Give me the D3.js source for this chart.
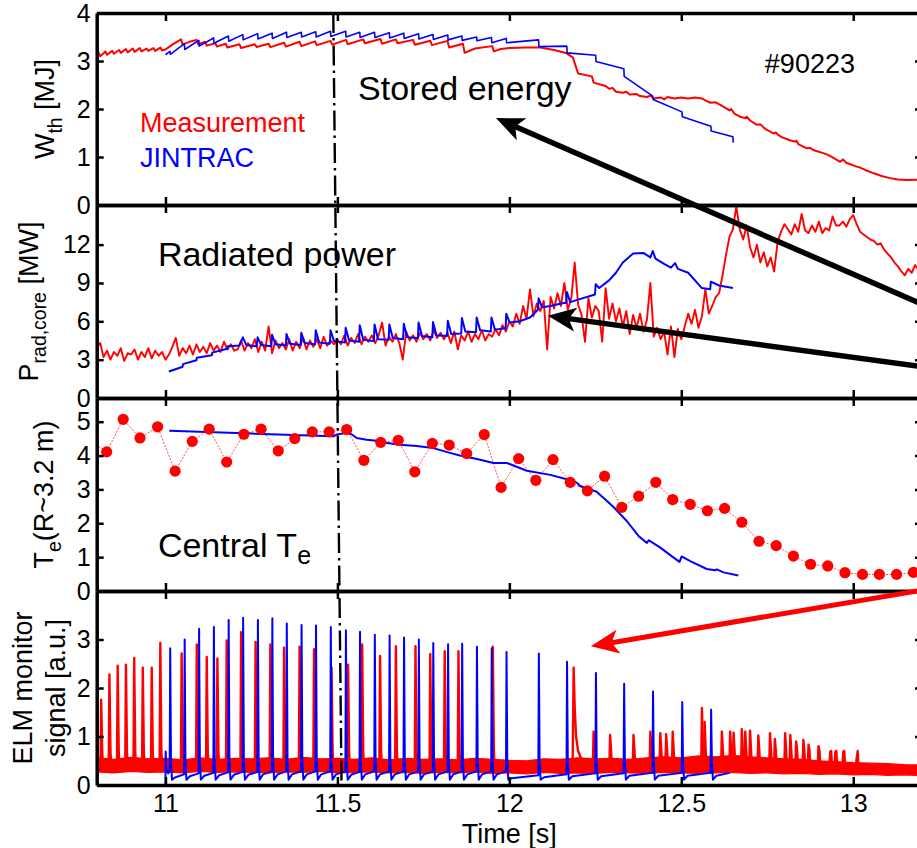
<!DOCTYPE html>
<html><head><meta charset="utf-8">
<script src="https://cdn.jsdelivr.net/npm/d3@7"></script>
<style>body{margin:0;background:#fff}svg{display:block}text{font-family:"Liberation Sans",Arial,Helvetica,sans-serif}</style>
</head><body><svg id="c" width="917" height="848"></svg>
<script>
// ---------------- DATA ----------------
const xTicks = [11, 11.5, 12, 12.5, 13];
const wthTicks = [0,1,2,3,4];
const pradTicks = [0,3,6,9,12];
const teTicks = [0,1,2,3,4,5];
const elmTicks = [0,1,2,3];

// Stored energy, measurement [t, MJ]
const wthMeas = [[10.800,3.14],[10.805,3.18],[10.810,3.10],[10.820,3.16],[10.825,3.20],[10.830,3.13],[10.845,3.21],[10.850,3.15],[10.865,3.23],[10.870,3.17],[10.885,3.25],[10.890,3.18],[10.905,3.26],[10.910,3.19],[10.925,3.27],[10.930,3.20],[10.945,3.26],[10.950,3.21],[10.965,3.27],[10.970,3.21],[10.985,3.28],[10.990,3.22],[11.000,3.24],[11.020,3.34],[11.045,3.45],[11.050,3.34],[11.070,3.40],[11.090,3.44],[11.095,3.35],[11.115,3.40],[11.120,3.32],[11.145,3.37],[11.150,3.30],[11.175,3.36],[11.180,3.28],[11.215,3.35],[11.220,3.27],[11.260,3.35],[11.265,3.29],[11.300,3.36],[11.305,3.29],[11.345,3.38],[11.350,3.30],[11.390,3.40],[11.395,3.31],[11.435,3.41],[11.440,3.33],[11.480,3.42],[11.485,3.34],[11.525,3.44],[11.530,3.35],[11.575,3.45],[11.580,3.37],[11.625,3.46],[11.630,3.36],[11.670,3.45],[11.675,3.37],[11.720,3.44],[11.725,3.34],[11.770,3.42],[11.775,3.33],[11.820,3.42],[11.825,3.28],[11.865,3.36],[11.870,3.17],[11.900,3.26],[11.950,3.31],[11.955,3.20],[11.975,3.25],[12.000,3.27],[12.050,3.28],[12.090,3.28],[12.130,3.23],[12.167,3.16],[12.185,3.07],[12.195,2.85],[12.200,2.74],[12.240,2.68],[12.245,2.55],[12.280,2.48],[12.290,2.42],[12.300,2.44],[12.310,2.36],[12.330,2.34],[12.340,2.36],[12.350,2.30],[12.370,2.31],[12.380,2.27],[12.400,2.25],[12.410,2.28],[12.420,2.22],[12.440,2.24],[12.450,2.20],[12.460,2.25],[12.480,2.22],[12.500,2.24],[12.520,2.22],[12.540,2.24],[12.560,2.22],[12.570,2.18],[12.585,2.13],[12.600,2.14],[12.615,2.08],[12.640,1.97],[12.645,2.00],[12.655,1.90],[12.671,1.84],[12.685,1.81],[12.690,1.84],[12.700,1.76],[12.720,1.67],[12.730,1.68],[12.745,1.58],[12.768,1.49],[12.775,1.51],[12.780,1.47],[12.790,1.42],[12.816,1.35],[12.830,1.32],[12.835,1.34],[12.840,1.27],[12.865,1.18],[12.875,1.19],[12.880,1.16],[12.890,1.13],[12.913,1.08],[12.925,1.05],[12.940,0.99],[12.962,0.90],[12.970,0.95],[12.980,0.88],[13.010,0.80],[13.020,0.78],[13.035,0.73],[13.060,0.66],[13.085,0.60],[13.107,0.56],[13.130,0.53],[13.156,0.52],[13.200,0.53]];

// Stored energy, JINTRAC [t, MJ]
const wthJintrac = [[11.000,3.13],[11.013,3.20],[11.014,3.14],[11.055,3.36],[11.056,3.24],[11.097,3.43],[11.098,3.31],[11.140,3.48],[11.141,3.37],[11.183,3.52],[11.184,3.41],[11.225,3.55],[11.226,3.44],[11.268,3.57],[11.269,3.46],[11.310,3.58],[11.311,3.47],[11.352,3.60],[11.353,3.49],[11.395,3.60],[11.396,3.50],[11.437,3.61],[11.438,3.50],[11.480,3.62],[11.481,3.51],[11.524,3.62],[11.525,3.50],[11.565,3.60],[11.566,3.49],[11.608,3.60],[11.609,3.49],[11.651,3.59],[11.652,3.48],[11.693,3.58],[11.694,3.47],[11.736,3.57],[11.737,3.46],[11.778,3.55],[11.779,3.45],[11.821,3.54],[11.822,3.44],[11.862,3.52],[11.863,3.43],[11.905,3.50],[11.906,3.42],[11.948,3.49],[11.949,3.38],[11.991,3.47],[11.992,3.38],[12.085,3.44],[12.086,3.30],[12.167,3.31],[12.168,3.17],[12.251,3.12],[12.252,2.99],[12.333,2.84],[12.334,2.68],[12.417,2.27],[12.418,2.20],[12.502,1.94],[12.503,1.84],[12.586,1.64],[12.587,1.54],[12.650,1.42],[12.651,1.30]];

// Core radiated power, measurement: sampled every 10 ms from 10.80 s [MW]
const pradStart = 10.80, pradStep = 0.01;
const pradMeas = [3.9,4.3,3.2,3.7,3.0,3.6,3.3,3.9,2.9,3.5,3.4,3.8,3.0,3.6,3.2,3.9,3.1,3.7,3.3,3.6,3.0,
 3.4,4.0,4.7,3.3,3.9,3.5,4.1,3.4,4.2,3.6,4.0,3.5,4.3,3.7,4.1,3.6,4.4,3.8,4.2,3.7,
 3.8,4.5,3.7,4.3,3.9,4.6,3.6,4.4,3.7,5.6,3.5,4.5,3.9,4.3,3.8,4.6,3.7,4.4,3.9,4.7,3.8,4.5,4.0,4.6,3.9,4.8,4.1,4.5,4.2,4.6,
 4.2,4.9,4.1,4.7,4.3,5.0,4.2,4.8,4.4,4.9,4.3,4.9,5.9,4.1,4.8,4.4,5.0,4.3,3.0,5.2,4.5,4.9,4.4,5.1,4.6,5.0,4.5,5.3,4.7,5.1,
 4.6,5.1,4.3,5.2,3.8,4.9,4.5,5.2,4.4,5.0,4.6,5.3,4.5,5.0,4.8,5.4,4.9,5.7,5.2,6.0,
 5.6,6.6,5.8,7.2,6.2,8.5,6.4,7.4,6.8,7.6,3.8,7.9,7.0,8.2,7.2,9.0,6.9,7.8,10.6,7.3,
 6.5,4.4,7.8,6.3,7.2,6.8,4.4,8.6,6.2,7.4,6.0,7.0,5.6,6.8,5.0,6.5,5.5,6.6,5.2,6.1,
 9.0,4.8,5.5,4.6,5.2,3.4,5.6,3.2,5.4,4.6,
 5.6,6.6,5.8,6.9,5.5,6.4,8.5,6.6,7.2,7.9,
 8.2,9.6,11.2,12.6,13.2,15.0,13.2,12.4,13.5,11.8,
 11.0,12.0,10.6,11.4,10.3,11.0,9.9,12.2,13.0,13.6,
 13.2,12.8,13.6,13.0,14.4,13.1,12.9,13.5,13.0,13.8,12.9,13.3,13.1,14.2,13.5,
 13.5,13.8,13.4,14.0,14.3,13.6,13.0,12.8,12.6,12.4,12.3,12.0,12.1,11.6,11.3,11.0,10.6,10.3,9.9,9.6,10.1,9.8,10.4,10.0,10.2];

// Core radiated power, JINTRAC [t, MW]
const pradJintrac = [[11.010,2.07],[11.050,2.45],[11.051,2.65],[11.090,2.95],[11.091,3.15],[11.135,3.35],[11.136,3.55],[11.180,3.85],[11.181,4.05],[11.215,4.10],[11.225,4.75],[11.235,4.15],[11.265,4.05],[11.268,4.75],[11.278,4.15],[11.308,4.05],[11.310,4.95],[11.320,4.20],[11.350,4.10],[11.352,5.00],[11.362,4.25],[11.393,4.15],[11.395,5.10],[11.405,4.30],[11.435,4.20],[11.437,5.30],[11.447,4.35],[11.478,4.25],[11.480,5.30],[11.490,4.45],[11.522,4.35],[11.524,5.50],[11.534,4.50],[11.563,4.40],[11.565,5.70],[11.575,4.55],[11.606,4.45],[11.608,5.75],[11.618,4.60],[11.649,4.55],[11.651,5.75],[11.661,4.70],[11.691,4.60],[11.693,5.80],[11.703,4.75],[11.734,4.70],[11.736,5.90],[11.746,4.85],[11.776,4.75],[11.778,5.95],[11.788,4.90],[11.819,4.85],[11.821,6.05],[11.831,5.00],[11.860,5.05],[11.862,6.25],[11.872,5.20],[11.903,5.15],[11.905,6.30],[11.915,5.30],[11.946,5.20],[11.948,6.30],[11.958,5.35],[11.989,5.45],[11.991,6.60],[12.001,5.90],[12.030,6.00],[12.060,6.30],[12.083,6.90],[12.085,7.80],[12.095,7.10],[12.120,7.20],[12.150,7.40],[12.165,7.45],[12.167,8.30],[12.177,7.50],[12.200,7.70],[12.249,8.10],[12.251,8.90],[12.261,8.60],[12.290,9.20],[12.310,9.80],[12.330,10.60],[12.360,11.30],[12.390,11.35],[12.410,11.00],[12.417,11.50],[12.425,10.90],[12.450,10.50],[12.470,10.20],[12.482,10.55],[12.490,10.10],[12.520,9.80],[12.560,8.60],[12.584,8.50],[12.586,9.10],[12.610,8.80],[12.650,8.60]];

// Central Te, measurement [t, keV]
const teMeas = [[10.780,4.45],[10.829,4.11],[10.877,5.07],[10.926,4.52],[10.977,4.85],[11.028,3.54],[11.078,4.42],[11.127,4.78],[11.178,3.81],[11.228,4.63],[11.278,4.78],[11.328,4.14],[11.376,4.50],[11.427,4.70],[11.476,4.70],[11.527,4.77],[11.577,3.86],[11.626,4.39],[11.677,4.45],[11.725,3.52],[11.776,4.36],[11.825,4.31],[11.876,4.06],[11.927,4.62],[11.976,3.06],[12.027,3.91],[12.077,3.27],[12.127,3.88],[12.177,3.21],[12.227,2.96],[12.277,3.39],[12.327,2.47],[12.376,2.80],[12.426,3.21],[12.475,2.70],[12.526,2.56],[12.576,2.37],[12.626,2.44],[12.676,2.03],[12.726,1.47],[12.776,1.34],[12.826,1.03],[12.876,0.79],[12.926,0.74],[12.976,0.54],[13.027,0.49],[13.076,0.49],[13.126,0.49],[13.175,0.55],[13.226,0.62]];

// Central Te, JINTRAC [t, keV]
const teJintrac = [[11.011,4.73],[11.250,4.65],[11.488,4.57],[11.498,4.62],[11.527,4.67],[11.541,4.63],[11.556,4.52],[11.585,4.47],[11.614,4.44],[11.624,4.40],[11.682,4.32],[11.730,4.28],[11.779,4.22],[11.827,4.08],[11.856,4.00],[11.906,3.90],[11.954,3.78],[11.993,3.78],[12.051,3.55],[12.119,3.43],[12.167,3.30],[12.196,3.20],[12.206,3.10],[12.254,2.93],[12.303,2.48],[12.342,2.06],[12.376,1.62],[12.400,1.42],[12.405,1.50],[12.439,1.28],[12.468,1.06],[12.495,0.86],[12.501,1.02],[12.526,0.88],[12.574,0.65],[12.598,0.61],[12.603,0.64],[12.623,0.55],[12.666,0.46]];

// ELM monitor, JINTRAC: ELM times, peaks, pre-ELM baseline
const elmBlueT = [11.013,11.055,11.097,11.140,11.183,11.225,11.268,11.310,11.352,11.395,11.437,11.480,11.524,11.565,11.608,11.651,11.693,11.736,11.778,11.821,11.862,11.905,11.948,11.991,12.085,12.167,12.251,12.333,12.417,12.502,12.586];
const elmBluePeak = [2.82,3.00,3.22,3.26,3.40,3.45,3.40,3.44,3.33,3.30,3.29,3.26,3.19,3.16,3.10,3.08,3.04,3.00,2.93,2.90,2.91,2.85,2.82,2.74,2.71,2.54,2.31,2.09,1.93,1.71,1.55];
const elmBlueBase = [0.30,0.22,0.24,0.25,0.26,0.27,0.27,0.28,0.28,0.28,0.28,0.28,0.28,0.27,0.28,0.28,0.28,0.28,0.28,0.28,0.28,0.28,0.28,0.28,0.20,0.22,0.24,0.24,0.25,0.25,0.25];
const elmBlueEnd = 12.641;

// ELM monitor, measurement: spikes [t, peak] and noise band (every 50 ms from 10.80 s)
const elmRedSpikes = [[10.813,1.76],[10.837,2.28],[10.861,2.46],[10.885,2.48],[10.909,2.62],[10.934,2.42],[10.960,2.42],[10.985,2.93],[11.047,2.71],[11.091,2.90],[11.120,2.64],[11.151,2.61],[11.178,2.98],[11.220,3.15],[11.262,2.95],[11.305,2.90],[11.345,2.83],[11.390,2.85],[11.432,2.80],[11.483,2.42],[11.531,2.48],[11.572,2.90],[11.624,2.66],[11.670,2.86],[11.727,2.86],[11.770,2.70],[11.812,2.76],[11.852,2.76],[11.952,2.85],[12.245,1.10],[12.293,1.03],[12.361,1.03],[12.410,1.10],[12.439,1.07],[12.456,1.05],[12.475,1.10],[12.560,1.59],[12.568,1.30],[12.618,1.10],[12.642,1.10],[12.652,1.08],[12.676,1.15],[12.686,1.10],[12.700,1.12],[12.724,1.02],[12.758,1.07],[12.772,0.95],[12.802,1.07],[12.817,1.03],[12.834,0.90],[12.855,0.93],[12.870,0.83],[12.899,0.80],[12.933,0.69],[12.948,0.69],[12.971,0.69],[13.010,0.55]];
const elmRedSlow = [[12.184,0.40],[12.187,2.42],[12.190,1.60],[12.194,1.00],[12.200,0.70],[12.210,0.52],[12.220,0.45]];
const elmBandStart = 10.80, elmBandStep = 0.05;
const elmBandLo = [0.27,0.25,0.28,0.26,0.27,0.25,0.28,0.26,0.27,0.26,0.25,0.27,0.26,0.28,0.25,0.26,0.27,0.25,0.26,0.24,0.26,0.25,0.27,0.24,0.25,0.23,0.26,0.24,0.25,0.24,0.26,0.25,0.24,0.26,0.25,0.24,0.25,0.26,0.24,0.25,0.23,0.24,0.22,0.23,0.21,0.22,0.20,0.21,0.19];
const elmBandHi = [0.56,0.53,0.57,0.54,0.55,0.52,0.56,0.53,0.55,0.54,0.56,0.53,0.57,0.54,0.55,0.53,0.56,0.52,0.55,0.53,0.54,0.52,0.55,0.53,0.51,0.50,0.54,0.53,0.56,0.54,0.55,0.53,0.56,0.58,0.56,0.60,0.58,0.61,0.58,0.56,0.54,0.53,0.50,0.48,0.46,0.45,0.44,0.42,0.41];

// ---------------- LAYOUT ----------------
const RED = "#ff0000", BLUE = "#0000ff";
const svg = d3.select("#c");
svg.append("rect").attr("width",917).attr("height",848).attr("fill","#fff");
const x = d3.scaleLinear().domain([10.8, 13.2]).range([96.7, 922]);
const panels = [
  {top:13,  bottom:205, dom:[0,4],    ticks:wthTicks},
  {top:205, bottom:398, dom:[0,15.1], ticks:pradTicks},
  {top:398, bottom:591, dom:[0,5.7],  ticks:teTicks},
  {top:591, bottom:785, dom:[0,4.0],  ticks:elmTicks}
];
panels.forEach((p,i)=>{
  p.y = d3.scaleLinear().domain(p.dom).range([p.bottom, p.top]);
  svg.append("clipPath").attr("id","clip"+i).append("rect")
    .attr("x",x.range()[0]).attr("y",p.top).attr("width",x.range()[1]-x.range()[0]).attr("height",p.bottom-p.top);
  p.g = svg.append("g").attr("clip-path",`url(#clip${i})`);
});

function drawLine(p, data, color, width, extra){
  const line = d3.line().x(d=>x(d[0])).y(d=>p.y(d[1]));
  const el = p.g.append("path").datum(data).attr("d",line).attr("fill","none")
    .attr("stroke",color).attr("stroke-width",width).attr("stroke-linejoin","round");
  if (extra) extra(el);
  return el;
}

// Panel 1: stored energy
drawLine(panels[0], wthMeas, RED, 2);
drawLine(panels[0], wthJintrac, BLUE, 1.6);

// Panel 2: radiated power
const pradPts = pradMeas.map((v,i)=>[pradStart + i*pradStep, v]);
drawLine(panels[1], pradPts, RED, 1.9);
drawLine(panels[1], pradJintrac, BLUE, 2);

// Panel 3: central Te
drawLine(panels[2], teMeas, RED, 1, el=>el.attr("stroke-dasharray","2,1.5").attr("opacity",0.7));
drawLine(panels[2], teJintrac, BLUE, 2);
panels[2].g.selectAll("circle.te").data(teMeas).join("circle").attr("class","te")
  .attr("cx",d=>x(d[0])).attr("cy",d=>panels[2].y(d[1])).attr("r",5.6).attr("fill",RED);

// Panel 4: ELM monitor
const p4 = panels[3];
const band = elmBandLo.map((lo,i)=>[elmBandStart + i*elmBandStep, lo, elmBandHi[i]]);
p4.g.append("path").datum(band)
  .attr("d", d3.area().x(d=>x(d[0])).y0(d=>p4.y(d[1])).y1(d=>p4.y(d[2])))
  .attr("fill",RED).attr("stroke",RED).attr("stroke-width",1.2);
elmRedSpikes.forEach(s=>{
  drawLine(p4, [[s[0]-0.002,0.42],[s[0],s[1]],[s[0]+0.003,0.7],[s[0]+0.005,0.42]], RED, 2.4);
});
drawLine(p4, elmRedSlow, RED, 2.4);
// JINTRAC ELM trace built from ELM times / peaks / baselines
const bluePts = [[11.0,0.0],[11.0005,0.69],[11.003,0.32],[11.008,0.24]];
elmBlueT.forEach((t,i)=>{
  const next = i < elmBlueT.length-1 ? elmBlueT[i+1] : elmBlueEnd;
  bluePts.push([t-0.0008, elmBlueBase[i]],[t+0.0008, elmBluePeak[i]],[t+0.003,0.5],[t+0.006,0.11]);
  const nb = i < elmBlueT.length-1 ? elmBlueBase[i+1] : 0.25;
  bluePts.push([Math.min(t+0.016, next-0.002), nb-0.06]);
});
bluePts.push([elmBlueEnd, 0.25]);
drawLine(p4, bluePts, BLUE, 2);

// ---------------- AXES ----------------
const fmt = d=>String(d);
panels.forEach((p,i)=>{
  const g = svg.append("g").attr("class","ax");
  g.append("g").attr("transform",`translate(${x.range()[0]},0)`)
    .call(d3.axisLeft(p.y).tickValues(p.ticks).tickSize(-7).tickSizeOuter(0).tickPadding(6).tickFormat(fmt));
  g.append("g").attr("transform",`translate(${x.range()[1]},0)`)
    .call(d3.axisRight(p.y).tickValues(p.ticks).tickSize(-7).tickSizeOuter(0).tickFormat(""));
  g.append("g").attr("transform",`translate(0,${p.top})`)
    .call(d3.axisTop(x).tickValues(xTicks).tickSize(-8).tickSizeOuter(0).tickFormat(""));
  g.append("g").attr("transform",`translate(0,${p.bottom})`)
    .call(d3.axisBottom(x).tickValues(xTicks).tickSize(-8).tickSizeOuter(0).tickPadding(9).tickFormat(i===3?fmt:""));
});
svg.selectAll(".ax .domain").attr("stroke","#000").attr("stroke-width",3.5);
svg.selectAll(".ax .tick line").attr("stroke","#000").attr("stroke-width",2.5);
svg.selectAll(".ax text").attr("font-size",25).attr("fill","#000")
  .attr("font-family",'"Liberation Sans",Arial,Helvetica,sans-serif');
svg.selectAll(".ax g").attr("font-family",null).attr("font-size",null);

// Dash-dot time marker
svg.append("line").attr("x1",x(11.488)).attr("y1",panels[0].top).attr("x2",x(11.512)).attr("y2",panels[3].bottom)
  .attr("stroke","#000").attr("stroke-width",2.4).attr("stroke-dasharray","20,5,2.5,5");

// ---------------- LABELS ----------------
function rich(sel, parts, subSize, shift){
  parts.forEach(pt=>{
    const ts = sel.append("tspan").text(pt.t);
    if (pt.sub) ts.attr("font-size",subSize).attr("dy",shift);
    if (pt.back) ts.attr("dy",-shift);
  });
}
function ylab(bx, cy, parts, size){
  const t = svg.append("text").attr("transform",`translate(${bx},${cy}) rotate(-90)`)
    .attr("text-anchor","middle").attr("font-size",size).attr("fill","#000");
  rich(t, parts, size*0.72, 8);
}
ylab(54, (panels[0].top+panels[0].bottom)/2, [{t:"W"},{t:"th",sub:true},{t:" [MJ]",back:true}], 27);
ylab(38, (panels[1].top+panels[1].bottom)/2, [{t:"P"},{t:"rad,core",sub:true},{t:" [MW]",back:true}], 27);
ylab(53, (panels[2].top+panels[2].bottom)/2, [{t:"T"},{t:"e",sub:true},{t:"(R~3.2 m)",back:true}], 27);
ylab(32, (panels[3].top+panels[3].bottom)/2, [{t:"ELM monitor"}], 27);
ylab(65, (panels[3].top+panels[3].bottom)/2, [{t:"signal [a.u.]"}], 27);

svg.append("text").attr("x",x(12.0)).attr("y",843).attr("text-anchor","middle").attr("font-size",27).text("Time [s]");

const P1 = panels[0].y, P2 = panels[1].y, P3 = panels[2].y, P4 = panels[3].y;
svg.append("text").attr("x",x(10.926)).attr("y",P1(1.53)).attr("font-size",27).attr("fill",RED).text("Measurement");
svg.append("text").attr("x",x(10.926)).attr("y",P1(0.80)).attr("font-size",27).attr("fill",BLUE).text("JINTRAC");
svg.append("text").attr("x",x(11.56)).attr("y",P1(2.19)).attr("font-size",34).text("Stored energy");
svg.append("text").attr("x",x(12.743)).attr("y",P1(2.76)).attr("font-size",27).text("#90223");
svg.append("text").attr("x",x(10.978)).attr("y",P2(10.3)).attr("font-size",34).text("Radiated power");
const ct = svg.append("text").attr("x",x(10.978)).attr("y",P3(1.01)).attr("font-size",34);
rich(ct, [{t:"Central T"},{t:"e",sub:true}], 25, 7);

// ---------------- ARROWS ----------------
function arrow(tip, tail, color, width){
  const dx = tail[0]-tip[0], dy = tail[1]-tip[1], L = Math.hypot(dx,dy);
  const ux = dx/L, uy = dy/L, px = -uy, py = ux;
  const hl = 28, hw = 12, notch = 7;
  const base = [tip[0]+ux*hl, tip[1]+uy*hl];
  const inner = [tip[0]+ux*(hl-notch), tip[1]+uy*(hl-notch)];
  svg.append("line").attr("x1",inner[0]).attr("y1",inner[1]).attr("x2",tail[0]).attr("y2",tail[1])
    .attr("stroke",color).attr("stroke-width",width);
  svg.append("path").attr("fill",color).attr("d",
    `M${tip[0]},${tip[1]}L${base[0]+px*hw},${base[1]+py*hw}L${inner[0]},${inner[1]}L${base[0]-px*hw},${base[1]-py*hw}Z`);
}
arrow([x(11.961), P1(1.81)], [x(13.309), P2(6.05)], "#000", 5.5);
arrow([x(12.112), P2(6.43)], [x(13.309), P2(2.05)], "#000", 5.5);
arrow([x(12.237), P4(2.86)], [x(13.309), P4(4.15)], RED, 5);
</script></body></html>
